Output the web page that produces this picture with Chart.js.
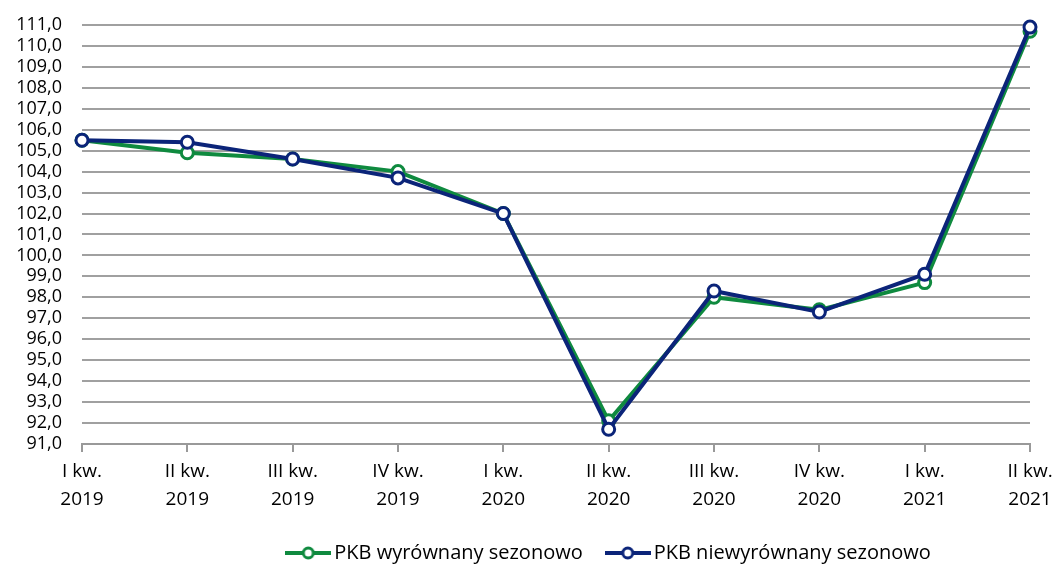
<!DOCTYPE html>
<html>
<head>
<meta charset="utf-8">
<script src="https://cdn.jsdelivr.net/npm/chart.js@4.4.1/dist/chart.umd.min.js"></script>
<style>
    body { margin: 0; background: #fff; }
    .wrap { width: 1056px; height: 565px; position: relative; }
</style>
</head>
<body>
<div class="wrap"><canvas id="pkb"></canvas></div>
<script>
// quarters on the x axis (two lines each)
const quarters = [
    ['I kw.', '2019'], ['II kw.', '2019'], ['III kw.', '2019'], ['IV kw.', '2019'],
    ['I kw.', '2020'], ['II kw.', '2020'], ['III kw.', '2020'], ['IV kw.', '2020'],
    ['I kw.', '2021'], ['II kw.', '2021']
];

// PKB, seasonally adjusted
const pkbAdjusted = [105.5, 104.9, 104.6, 104.0, 102.0, 92.1, 98.0, 97.4, 98.7, 110.7];
// PKB, not seasonally adjusted
const pkbUnadjusted = [105.5, 105.4, 104.6, 103.7, 102.0, 91.7, 98.3, 97.3, 99.1, 110.9];

const yMin = 91;
const yMax = 111;

const GREEN = '#0f8a3f';
const NAVY = '#0b2479';

// small line+circle picture used as legend marker
function legendMarker(color) {
    const c = document.createElement('canvas');
    c.width = 46;
    c.height = 16;
    const g = c.getContext('2d');
    g.strokeStyle = color;
    g.lineWidth = 4;
    g.beginPath();
    g.moveTo(0, 8);
    g.lineTo(46, 8);
    g.stroke();
    g.beginPath();
    g.arc(23, 8, 5, 0, Math.PI * 2);
    g.fillStyle = '#fff';
    g.fill();
    g.lineWidth = 3;
    g.stroke();
    return c;
}

// legend in the original sits right of centre
const legendShift = {
    id: 'legendShift',
    afterLayout(chart) {
        chart.legend.left += 193;
    }
};

document.addEventListener('DOMContentLoaded', () => {
    const ctx = document.getElementById('pkb');

    new Chart(ctx, {
        type: 'line',
        data: {
            labels: quarters,
            datasets: [{
                label: 'PKB wyrównany sezonowo',
                data: pkbAdjusted,
                borderColor: GREEN,
                backgroundColor: '#fff',
                borderWidth: 4,
                pointRadius: 6,
                pointBorderWidth: 3,
                pointBackgroundColor: '#fff',
                pointBorderColor: GREEN,
                tension: 0,
                clip: false,
                order: 2
            }, {
                label: 'PKB niewyrównany sezonowo',
                data: pkbUnadjusted,
                borderColor: NAVY,
                backgroundColor: '#fff',
                borderWidth: 4,
                pointRadius: 6,
                pointBorderWidth: 3,
                pointBackgroundColor: '#fff',
                pointBorderColor: NAVY,
                tension: 0,
                clip: false,
                order: 1
            }]
        },
        options: {
            responsive: true,
            maintainAspectRatio: false,
            animation: false,
            layout: {
                padding: { top: 0, right: 26, left: 0, bottom: -8 }
            },
            scales: {
                x: {
                    offset: false,
                    afterFit: (scale) => {
                        scale.height -= 5;
                        scale.paddingLeft = 0;
                        scale.paddingRight = 0;
                    },
                    grid: {
                        drawOnChartArea: false,
                        drawTicks: true,
                        tickLength: 8,
                        color: '#999',
                        lineWidth: 2
                    },
                    border: { display: true, color: '#999', width: 2 },
                    ticks: {
                        maxRotation: 0,
                        autoSkip: false,
                        padding: 6,
                        color: '#000',
                        font: { family: 'Open Sans', size: 19, lineHeight: 1.45 }
                    }
                },
                y: {
                    min: yMin,
                    max: yMax,
                    afterFit: (scale) => {
                        scale.width = 82;
                        scale.paddingTop = 25;
                        scale.paddingBottom = 0;
                    },
                    grid: {
                        drawTicks: false,
                        color: '#a0a0a0',
                        lineWidth: 2
                    },
                    border: { display: false },
                    ticks: {
                        stepSize: 1,
                        autoSkip: false,
                        padding: 20,
                        color: '#000',
                        font: { family: 'Open Sans', size: 18 },
                        callback: (value) => value.toFixed(1).replace('.', ',')
                    }
                }
            },
            plugins: {
                tooltip: { enabled: false },
                legend: {
                    position: 'bottom',
                    labels: {
                        usePointStyle: true,
                        pointStyleWidth: 32,
                        padding: 29,
                        color: '#000',
                        font: { family: 'Open Sans', size: 20 },
                        generateLabels: (chart) => chart.data.datasets.map((ds, i) => ({
                            text: ds.label,
                            pointStyle: legendMarker(ds.borderColor),
                            fillStyle: ds.borderColor,
                            strokeStyle: ds.borderColor,
                            lineWidth: 0,
                            hidden: false,
                            datasetIndex: i,
                            fontColor: '#000'
                        }))
                    }
                }
            }
        },
        plugins: [legendShift]
    });
});
</script>
</body>
</html>
